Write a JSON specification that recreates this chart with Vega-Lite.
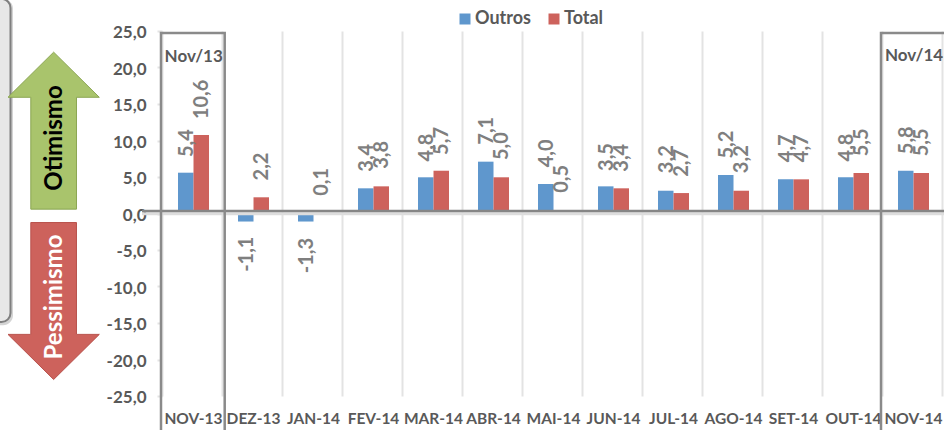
{
"$schema":"https://vega.github.io/schema/vega-lite/v6.json",
"width":780,"height":365,
"autosize":{"type":"none"},
"padding":{"left":162,"top":31,"right":2,"bottom":34},
"background":"#ffffff",
"config":{"view":{"stroke":null},"font":"Lato"},
"datasets":{
"barras":[
{"mes":"NOV-13","serie":"Outros","valor":5.4,"rotulo":"5,4","barra":5.59},
{"mes":"NOV-13","serie":"Total","valor":10.6,"rotulo":"10,6","barra":10.75},
{"mes":"DEZ-13","serie":"Outros","valor":-1.1,"rotulo":"-1,1","barra":-1.1},
{"mes":"DEZ-13","serie":"Total","valor":2.2,"rotulo":"2,2","barra":2.22},
{"mes":"JAN-14","serie":"Outros","valor":-1.3,"rotulo":"-1,3","barra":-1.1},
{"mes":"JAN-14","serie":"Total","valor":0.1,"rotulo":"0,1","barra":0.33},
{"mes":"FEV-14","serie":"Outros","valor":3.4,"rotulo":"3,4","barra":3.45},
{"mes":"FEV-14","serie":"Total","valor":3.8,"rotulo":"3,8","barra":3.72},
{"mes":"MAR-14","serie":"Outros","valor":4.8,"rotulo":"4,8","barra":4.96},
{"mes":"MAR-14","serie":"Total","valor":5.7,"rotulo":"5,7","barra":5.86},
{"mes":"ABR-14","serie":"Outros","valor":7.1,"rotulo":"7,1","barra":7.1},
{"mes":"ABR-14","serie":"Total","valor":5.0,"rotulo":"5,0","barra":4.96},
{"mes":"MAI-14","serie":"Outros","valor":4.0,"rotulo":"4,0","barra":4.04},
{"mes":"MAI-14","serie":"Total","valor":0.5,"rotulo":"0,5","barra":0.33},
{"mes":"JUN-14","serie":"Outros","valor":3.5,"rotulo":"3,5","barra":3.72},
{"mes":"JUN-14","serie":"Total","valor":3.4,"rotulo":"3,4","barra":3.45},
{"mes":"JUL-14","serie":"Outros","valor":3.2,"rotulo":"3,2","barra":3.12},
{"mes":"JUL-14","serie":"Total","valor":2.7,"rotulo":"2,7","barra":2.8},
{"mes":"AGO-14","serie":"Outros","valor":5.2,"rotulo":"5,2","barra":5.27},
{"mes":"AGO-14","serie":"Total","valor":3.2,"rotulo":"3,2","barra":3.12},
{"mes":"SET-14","serie":"Outros","valor":4.7,"rotulo":"4,7","barra":4.68},
{"mes":"SET-14","serie":"Total","valor":4.7,"rotulo":"4,7","barra":4.68},
{"mes":"OUT-14","serie":"Outros","valor":4.8,"rotulo":"4,8","barra":4.96},
{"mes":"OUT-14","serie":"Total","valor":5.5,"rotulo":"5,5","barra":5.55},
{"mes":"NOV-14","serie":"Outros","valor":5.8,"rotulo":"5,8","barra":5.86},
{"mes":"NOV-14","serie":"Total","valor":5.5,"rotulo":"5,5","barra":5.55}
],
"painel":[{"px":-40,"px2":10.5,"y":29.4,"y2":-14.86}],
"sombra":[{"px":-40,"px2":13,"y":29.4,"y2":-15.3}],
"caixas":[{"px":161,"px2":224.7,"y":24.73,"y2":-32},{"px":881,"px2":960,"y":24.73,"y2":-32}],
"notas":[{"px":193.7,"y":21.44,"t":"Nov/13"},{"px":914,"y":21.6,"t":"Nov/14"}],
"zero":[{"px":142,"px2":950,"y":0.33}],
"zerosombra":[{"px":142,"px2":950,"y":-0.05}]
},
"resolve":{"scale":{"x":"independent"}},
"layer":[
{"data":{"name":"barras"},"mark":{"type":"bar"},
 "transform":[{"filter":"datum.barra>=0"}],
 "encoding":{
  "x":{"field":"mes","type":"nominal","scale":{"domain":["NOV-13","DEZ-13","JAN-14","FEV-14","MAR-14","ABR-14","MAI-14","JUN-14","JUL-14","AGO-14","SET-14","OUT-14","NOV-14"],"paddingInner":0,"paddingOuter":0},
   "axis":{"title":null,"labelAngle":0,"tickBand":"extent","grid":true,"gridColor":"#e3e3e3","gridWidth":2,"ticks":false,"domain":false,"labelFontSize":15.5,"labelFontWeight":"bold","labelColor":"#595959","labelPadding":15,"labelOverlap":false,"labelOffset":1,"labelFont":"Lato"}},
  "xOffset":{"field":"serie","type":"nominal","scale":{"paddingInner":0,"paddingOuter":0.935,"align":0.552}},
  "y":{"field":"barra","type":"quantitative","scale":{"domain":[-25,25],"nice":false,"zero":false},
   "axis":{"title":null,"values":[-25,-20,-15,-10,-5,0,5,10,15,20,25],"tickCount":11,"labelExpr":"replace(replace(format(datum.value,'.1f'),'.',','),'\u2212','-')","labelOverlap":false,"grid":false,"domain":false,"tickColor":"#e3e3e3","tickWidth":2,"tickSize":5,"labelFontSize":17,"labelFontWeight":"bold","labelColor":"#595959","labelPadding":11,"labelOffset":1.5,"labelFont":"Lato"}},
  "y2":{"datum":0.33},
  "color":{"field":"serie","type":"nominal","scale":{"domain":["Outros","Total"],"range":["#5f97cd","#cd625c"]},
   "legend":{"title":null,"orient":"none","legendX":294,"legendY":-21,"direction":"horizontal","symbolType":"square","symbolSize":121,"symbolStrokeWidth":0,"padding":0,"labelFontSize":18,"labelFontWeight":"bold","labelColor":"#595959","labelOffset":1,"columnPadding":14,"labelFont":"Lato"}}
 }},
{"data":{"name":"barras"},"mark":{"type":"bar"},
 "transform":[{"filter":"datum.barra<0"}],
 "encoding":{
  "x":{"field":"mes","type":"nominal","axis":null,"scale":{"domain":["NOV-13","DEZ-13","JAN-14","FEV-14","MAR-14","ABR-14","MAI-14","JUN-14","JUL-14","AGO-14","SET-14","OUT-14","NOV-14"],"paddingInner":0,"paddingOuter":0}},
  "xOffset":{"field":"serie","type":"nominal"},
  "y":{"field":"barra","type":"quantitative"},
  "y2":{"datum":0},
  "color":{"field":"serie","type":"nominal"}
 }},
{"data":{"name":"zerosombra"},"mark":{"type":"rule","color":"#dddddd","strokeWidth":3},
 "encoding":{"x":{"field":"px","type":"quantitative","axis":null,"scale":{"domain":[162,942],"zero":false,"nice":false}},"x2":{"field":"px2"},"y":{"field":"y","type":"quantitative"}}},
{"data":{"name":"zero"},"mark":{"type":"rule","color":"#868686","strokeWidth":2.5},
 "encoding":{"x":{"field":"px","type":"quantitative","axis":null,"scale":{"domain":[162,942],"zero":false,"nice":false}},"x2":{"field":"px2"},"y":{"field":"y","type":"quantitative"}}},
{"data":{"name":"barras"},"mark":{"type":"text","angle":270,"align":"left","baseline":"middle","dx":17,"dy":1,"fontSize":20,"fontWeight":"bold","color":"#7f7f7f","font":"Lato"},
 "transform":[{"filter":"datum.valor>=0"}],
 "encoding":{
  "x":{"field":"mes","type":"nominal","axis":null,"scale":{"domain":["NOV-13","DEZ-13","JAN-14","FEV-14","MAR-14","ABR-14","MAI-14","JUN-14","JUL-14","AGO-14","SET-14","OUT-14","NOV-14"],"paddingInner":0,"paddingOuter":0}},
  "xOffset":{"field":"serie","type":"nominal"},
  "y":{"field":"valor","type":"quantitative"},
  "text":{"field":"rotulo"}
 }},
{"data":{"name":"barras"},"mark":{"type":"text","angle":270,"align":"right","baseline":"middle","dx":-15,"dy":1,"fontSize":20,"fontWeight":"bold","color":"#7f7f7f","font":"Lato"},
 "transform":[{"filter":"datum.valor<0"}],
 "encoding":{
  "x":{"field":"mes","type":"nominal","axis":null,"scale":{"domain":["NOV-13","DEZ-13","JAN-14","FEV-14","MAR-14","ABR-14","MAI-14","JUN-14","JUL-14","AGO-14","SET-14","OUT-14","NOV-14"],"paddingInner":0,"paddingOuter":0}},
  "xOffset":{"field":"serie","type":"nominal"},
  "y":{"field":"valor","type":"quantitative"},
  "text":{"field":"rotulo"}
 }},
{"data":{"name":"caixas"},"mark":{"type":"rect","fillOpacity":0,"fill":"#ffffff","stroke":"#8a8a8a","strokeWidth":2.5},
 "encoding":{"x":{"field":"px","type":"quantitative","axis":null,"scale":{"domain":[162,942],"zero":false,"nice":false}},"x2":{"field":"px2"},"y":{"field":"y","type":"quantitative"},"y2":{"field":"y2"}}},
{"data":{"name":"notas"},"mark":{"type":"text","fontSize":17,"fontWeight":"bold","color":"#595959","font":"Lato","align":"center","baseline":"middle"},
 "encoding":{"x":{"field":"px","type":"quantitative","axis":null,"scale":{"domain":[162,942],"zero":false,"nice":false}},"y":{"field":"y","type":"quantitative"},"text":{"field":"t"}}},
{"data":{"name":"sombra"},"mark":{"type":"rect","fill":"#d4d4d4","cornerRadius":10},
 "encoding":{"x":{"field":"px","type":"quantitative","axis":null,"scale":{"domain":[162,942],"zero":false,"nice":false}},"x2":{"field":"px2"},"y":{"field":"y","type":"quantitative"},"y2":{"field":"y2"}}},
{"data":{"name":"painel"},"mark":{"type":"rect","fill":"#e7e7e7","stroke":"#7f7f7f","strokeWidth":2,"cornerRadius":9},
 "encoding":{"x":{"field":"px","type":"quantitative","axis":null,"scale":{"domain":[162,942],"zero":false,"nice":false}},"x2":{"field":"px2"},"y":{"field":"y","type":"quantitative"},"y2":{"field":"y2"}}},
{"data":{"values":[{"px":53.65,"y":11.35}]},"mark":{"type":"point","filled":true,"opacity":1,"fill":"#a9c46c","stroke":"#8ba653","strokeWidth":1,"size":24649,"shape":"M0,-1L0.5815,-0.425L0.291,-0.425L0.291,1L-0.291,1L-0.291,-0.425L-0.5815,-0.425Z"},
 "encoding":{"x":{"field":"px","type":"quantitative","axis":null,"scale":{"domain":[162,942],"zero":false,"nice":false}},"y":{"field":"y","type":"quantitative"}}},
{"data":{"values":[{"px":53.65,"y":-11.99}]},"mark":{"type":"point","filled":true,"opacity":1,"fill":"#cd625c","stroke":"#b9534d","strokeWidth":1,"size":24649,"shape":"M0,1L0.5815,0.425L0.291,0.425L0.291,-1L-0.291,-1L-0.291,0.425L-0.5815,0.425Z"},
 "encoding":{"x":{"field":"px","type":"quantitative","axis":null,"scale":{"domain":[162,942],"zero":false,"nice":false}},"y":{"field":"y","type":"quantitative"}}},
{"data":{"values":[{"px":55,"y":10.34,"t":"Otimismo"}]},"mark":{"type":"text","angle":270,"fontSize":24,"fontWeight":"bold","color":"#000000","font":"Lato","align":"center","baseline":"middle"},
 "encoding":{"x":{"field":"px","type":"quantitative","axis":null,"scale":{"domain":[162,942],"zero":false,"nice":false}},"y":{"field":"y","type":"quantitative"},"text":{"field":"t"}}},
{"data":{"values":[{"px":55,"y":-11.44,"t":"Pessimismo"}]},"mark":{"type":"text","angle":270,"fontSize":24,"fontWeight":"bold","color":"#ffffff","font":"Lato","align":"center","baseline":"middle"},
 "encoding":{"x":{"field":"px","type":"quantitative","axis":null,"scale":{"domain":[162,942],"zero":false,"nice":false}},"y":{"field":"y","type":"quantitative"},"text":{"field":"t"}}}
]
}
